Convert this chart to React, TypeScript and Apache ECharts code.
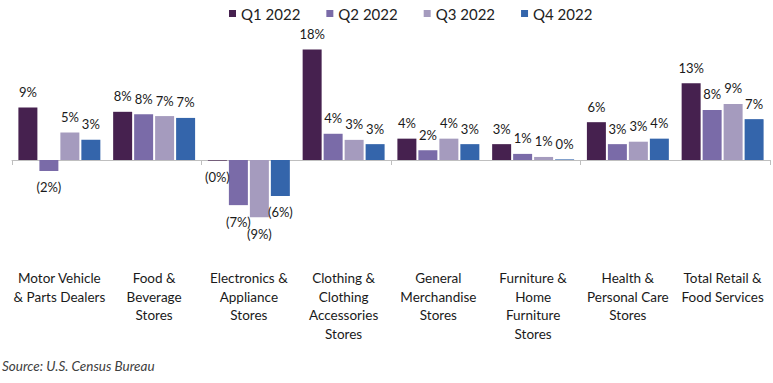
import React, { useEffect, useRef } from "react";
import * as echarts from "echarts";

const categories = [
  "Motor Vehicle\n& Parts Dealers",
  "Food &\nBeverage\nStores",
  "Electronics &\nAppliance\nStores",
  "Clothing &\nClothing\nAccessories\nStores",
  "General\nMerchandise\nStores",
  "Furniture &\nHome\nFurniture\nStores",
  "Health &\nPersonal Care\nStores",
  "Total Retail &\nFood Services",
];

const seriesNames = ["Q1 2022", "Q2 2022", "Q3 2022", "Q4 2022"];
const q1 = [8.6, 7.9, -0.1, 18.1, 3.5, 2.6, 6.2, 12.6];
const q2 = [-1.8, 7.5, -7.4, 4.3, 1.6, 1.0, 2.6, 8.2];
const q3 = [4.5, 7.2, -9.4, 3.3, 3.5, 0.5, 3.0, 9.2];
const q4 = [3.3, 6.9, -5.9, 2.6, 2.6, 0.1, 3.5, 6.7];
const colors = ["#46214f", "#7a6ba8", "#a59bbe", "#3465ab"];
const sourceText = "Source: U.S. Census Bureau";

const FONT = "Lato, 'Open Sans', sans-serif";

const fmt = (v: number) =>
  v < 0 ? `(${Math.round(-v)}%)` : `${Math.round(v)}%`;

export default function App() {
  const ref = useRef<HTMLDivElement>(null);
  useEffect(() => {
    if (!ref.current) return;
    const chart = echarts.init(ref.current, null, { renderer: "svg" });
    const all = [q1, q2, q3, q4];
    const series = all.map((arr, i) => ({
      name: seriesNames[i],
      type: "bar",
      xAxisIndex: 0,
      barGap: "10.5%",
      barCategoryGap: "13.5%",
      itemStyle: { color: colors[i] },
      data: arr.map((v) => ({
        value: v,
        label: {
          position: v < 0 ? "bottom" : "top",
          distance: v < 0 ? 10 : 9,
        },
      })),
      label: {
        show: true,
        color: "#1a1a1a",
        fontFamily: FONT,
        fontSize: 13,
        formatter: (p: any) => fmt(p.value),
      },
    }));
    chart.setOption({
      animation: false,
      textStyle: { fontFamily: FONT },
      legend: {
        data: seriesNames,
        left: 224,
        top: 1,
        icon: "rect",
        itemWidth: 7,
        itemHeight: 7,
        itemGap: 26,
        textStyle: { fontFamily: FONT, fontSize: 15, color: "#222" },
      },
      grid: { left: 12, right: 3, top: 38, bottom: 383 - 221 },
      xAxis: [
        {
          type: "category",
          data: categories,
          position: "bottom",
          axisLine: { onZero: true, lineStyle: { color: "#bfbfbf", width: 1 } },
          axisTick: { show: true, length: 5, lineStyle: { color: "#bfbfbf" } },
          axisLabel: { show: false },
        },
        {
          type: "category",
          data: categories,
          position: "bottom",
          axisLine: { show: false, onZero: false },
          axisTick: { show: false },
          axisLabel: {
            show: true,
            interval: 0,
            margin: 48,
            color: "#1a1a1a",
            fontFamily: FONT,
            fontSize: 13.5,
            lineHeight: 18.5,
          },
        },
      ],
      yAxis: {
        type: "value",
        min: -10,
        max: 20,
        show: false,
        splitLine: { show: false },
      },
      graphic: [
        {
          type: "text",
          left: 2,
          top: 359,
          style: {
            text: sourceText,
            fontFamily: FONT,
            fontStyle: "italic",
            fontSize: 13.5,
            fill: "#404040",
          },
        },
      ],
      series,
    });
    return () => chart.dispose();
  }, []);
  return (
    <div
      ref={ref}
      style={{ position: "fixed", left: 0, top: 0, width: 773, height: 383, background: "#fff" }}
    />
  );
}
